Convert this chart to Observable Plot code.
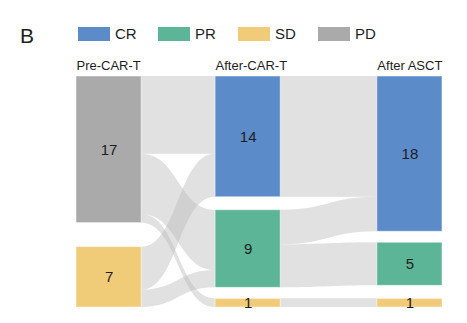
<!DOCTYPE html>
<html><head><meta charset="utf-8">
<script src="https://cdn.jsdelivr.net/npm/d3@7"></script>
<script src="https://cdn.jsdelivr.net/npm/@observablehq/plot@0.6"></script>
<style>
body{margin:0;background:#fff;font-family:"Liberation Sans",Arial,sans-serif;color:#1e1e1e;}
#wrap{position:relative;width:467px;height:323px;overflow:hidden;}
#head{position:relative;height:50px;}
#panel{position:absolute;left:20px;top:24px;font-size:21px;line-height:24px;}
.sw{position:absolute;top:27px;width:32px;height:14px;}
.lb{position:absolute;top:24px;font-size:15px;line-height:20px;}
</style></head><body>
<div id="wrap"><div id="head"><div id="panel">B</div></div><div id="chart"></div></div>
<script>
// ---- data ----
const stages = ["Pre-CAR-T", "After-CAR-T", "After ASCT"];
const statuses = ["CR", "PR", "SD", "PD"];
const statusColors = ["#5b8bc8", "#5cb597", "#f0cb78", "#aaaaaa"];
const stageNodes = [["PD", "SD"], ["CR", "PR", "SD"], ["CR", "PR", "SD"]];
const stageCounts = [[17, 7], [14, 9, 1], [18, 5, 1]];
const flowFromStage = [0, 0, 0, 0, 0, 1, 1, 1, 1];
const flowSource = ["PD", "PD", "PD", "SD", "SD", "CR", "PR", "PR", "SD"];
const flowTarget = ["CR", "PR", "SD", "CR", "PR", "CR", "CR", "PR", "SD"];
const flowValue = [9, 7, 1, 5, 2, 14, 4, 5, 1];

// ---- layout ----
const stageX = [0, 0.38, 0.822];
const nodeW = 0.178;
const gapUnits = [[2.78], [1.5, 1.28], [1.27, 1.51]];

// legend
const head = document.getElementById("head");
statuses.forEach((s, i) => {
  const left = 78 + i * 80;
  const sw = document.createElement("div");
  sw.className = "sw"; sw.style.left = left + "px"; sw.style.background = statusColors[i];
  head.appendChild(sw);
  const lb = document.createElement("div");
  lb.className = "lb"; lb.style.left = (left + 37) + "px"; lb.textContent = s;
  head.appendChild(lb);
});

// nodes
const nodes = [];
let total = 0;
stageNodes.forEach((list, si) => {
  let y = 0;
  list.forEach((st, k) => {
    const v = stageCounts[si][k];
    nodes.push({stage: si, status: st, value: v, x0: stageX[si], x1: stageX[si] + nodeW, y0: y, y1: y + v});
    y += v + (k < list.length - 1 ? gapUnits[si][k] : 0);
  });
  total = Math.max(total, y);
});
const findNode = (si, st) => nodes.find(n => n.stage === si && n.status === st);

const flows = flowValue.map((v, i) => ({i, from: flowFromStage[i], s: flowSource[i], t: flowTarget[i], v}));
const linkRows = [];
const geo = flows.map(f => ({f}));
stageNodes.slice(0, 2).forEach((list, si) => {
  const fs = flows.filter(f => f.from === si);
  list.forEach(st => {
    const n = findNode(si, st);
    let off = n.y0;
    fs.filter(f => f.s === st)
      .sort((a, b) => stageNodes[si + 1].indexOf(a.t) - stageNodes[si + 1].indexOf(b.t))
      .forEach(f => { geo[f.i].sy0 = off; off += f.v; geo[f.i].sy1 = off; });
  });
  stageNodes[si + 1].forEach(st => {
    const n = findNode(si + 1, st);
    let off = n.y0;
    fs.filter(f => f.t === st)
      .sort((a, b) => list.indexOf(a.s) - list.indexOf(b.s))
      .forEach(f => { geo[f.i].ty0 = off; off += f.v; geo[f.i].ty1 = off; });
  });
});
geo.forEach(g => {
  const f = g.f;
  linkRows.push({id: f.i, x: stageX[f.from] + nodeW, y1: g.sy0, y2: g.sy1});
  linkRows.push({id: f.i, x: stageX[f.from + 1], y1: g.ty0, y2: g.ty1});
});

const stageRows = stages.map((s, i) => ({s, x: stageX[i]}));
const font = "Liberation Sans, Arial, sans-serif";

const chart = Plot.plot({
  width: 467,
  height: 273,
  marginLeft: 76,
  marginRight: 25,
  marginTop: 26,
  marginBottom: 16,
  style: {fontFamily: font, background: "#fff", color: "#1e1e1e"},
  x: {domain: [0, 1], axis: null},
  y: {domain: [0, total], reverse: true, axis: null},
  color: {domain: statuses, range: statusColors},
  marks: [
    Plot.areaY(linkRows, {x: "x", y1: "y1", y2: "y2", z: "id", curve: "bump-x", fill: "#bdbdbd", fillOpacity: 0.45}),
    Plot.rect(nodes, {x1: "x0", x2: "x1", y1: "y0", y2: "y1", fill: "status", stroke: "#fff", strokeOpacity: 0.5, strokeWidth: 1}),
    Plot.text(nodes, {x: d => d.x0 + nodeW / 2, y: d => (d.y0 + d.y1) / 2, text: d => String(d.value), fontSize: 15, fill: "#1e1e1e"}),
    Plot.text(stageRows, {x: "x", y: () => 0, text: "s", textAnchor: "start", lineAnchor: "bottom", dy: -7, fontSize: 13, fill: "#1e1e1e"})
  ]
});
document.getElementById("chart").appendChild(chart);
</script>
</body></html>
